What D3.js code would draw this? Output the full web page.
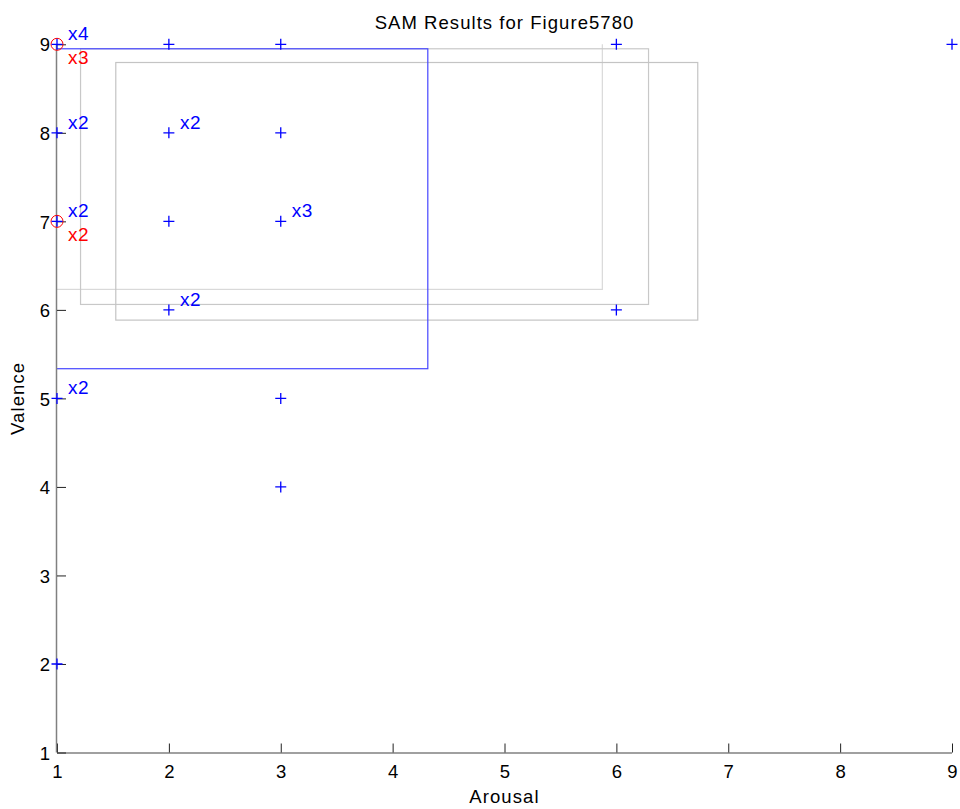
<!DOCTYPE html>
<html>
<head>
<meta charset="utf-8">
<script src="https://cdn.jsdelivr.net/npm/d3@7"></script>
<style>
  html, body { margin: 0; padding: 0; background: #fff; }
  svg { display: block; font-family: "Liberation Sans", Arial, sans-serif; }
</style>
</head>
<body>
<script>
// ---- data ----
const title = "SAM Results for Figure5780";
const xLabel = "Arousal";
const yLabel = "Valence";
const xTicks = [1, 2, 3, 4, 5, 6, 7, 8, 9];
const yTicks = [1, 2, 3, 4, 5, 6, 7, 8, 9];

// blue "+" ratings: arousal, valence, count
const blueArousal = [1, 2, 3, 6, 9, 1, 2, 3, 1, 2, 3, 2, 6, 1, 3, 3, 1];
const blueValence = [9, 9, 9, 9, 9, 8, 8, 8, 7, 7, 7, 6, 6, 5, 5, 4, 2];
const blueCount   = [4, 1, 1, 1, 1, 2, 2, 1, 2, 1, 3, 2, 1, 2, 1, 1, 1];

// red "o" ratings
const redArousal = [1, 1];
const redValence = [9, 7];
const redCount   = [3, 2];

// rectangles (arousal min/max, valence min/max)
const boxName    = ["light", "mid", "gray", "blue"];
const boxAroMin  = [0.8, 1.206, 1.521, 0.9];
const boxAroMax  = [5.87, 6.283, 6.723, 4.31];
const boxValMin  = [6.237, 6.067, 5.89, 5.341];
const boxValMax  = [9.1, 8.955, 8.80, 8.955];
const boxColor   = ["#d9d9d9", "#c8c8c8", "#c4c4c4", "#4646ff"];

// ---- drawing ----
(function () {
const W = 960, H = 809;
const mLeft = 57, mRight = 952, mTop = 44.3, mBottom = 752.5;

const svg = d3.select("body").append("svg").attr("width", W).attr("height", H);

const x = d3.scaleLinear().domain([1, 9]).range([mLeft, mRight]);
const y = d3.scaleLinear().domain([1, 9]).range([mBottom, mTop]);

svg.append("defs").append("clipPath").attr("id", "plotclip")
  .append("rect").attr("x", mLeft).attr("y", mTop)
  .attr("width", mRight - mLeft).attr("height", mBottom - mTop);

const plot = svg.append("g").attr("clip-path", "url(#plotclip)");

// boxes
boxName.forEach((n, i) => {
  plot.append("rect")
    .attr("x", x(boxAroMin[i]) + 0.5)
    .attr("y", y(boxValMax[i]) + 0.5)
    .attr("width", x(boxAroMax[i]) - x(boxAroMin[i]))
    .attr("height", y(boxValMin[i]) - y(boxValMax[i]))
    .attr("fill", "none")
    .attr("stroke", boxColor[i])
    .attr("stroke-width", 1.2);
});

// axes
const xAxis = d3.axisBottom(x).tickValues(xTicks).tickSize(-9).tickPadding(12).tickFormat(d3.format("d"));
const yAxis = d3.axisLeft(y).tickValues(yTicks).tickSize(-9).tickPadding(7).tickFormat(d3.format("d"));

const gx = svg.append("g").attr("transform", `translate(0,${mBottom})`).call(xAxis);
const gy = svg.append("g").attr("transform", `translate(${mLeft},0)`).call(yAxis);

[gx, gy].forEach(g => {
  g.select(".domain").attr("stroke", "#808080").attr("stroke-width", 1.5);
  g.selectAll(".tick line").attr("stroke", "#222").attr("stroke-width", 1);
  g.selectAll(".tick text").attr("fill", "#000").style("font-size", "18.5px")
    .style("font-family", "'Liberation Sans', Arial, sans-serif");
});
gx.select(".domain").attr("d", `M${mLeft},0.5H${mRight}`);
gy.select(".domain").attr("d", `M-0.5,${mTop}V${mBottom}`);
gy.selectAll(".tick text").attr("dy", "0.36em");

// red circles
const pts = svg.append("g");
redArousal.forEach((a, i) => {
  pts.append("circle")
    .attr("cx", x(a)).attr("cy", y(redValence[i])).attr("r", 6)
    .attr("fill", "none").attr("stroke", "#ff0000").attr("stroke-width", 1);
});

// blue plus markers
blueArousal.forEach((a, i) => {
  const cx = x(a), cy = y(blueValence[i]);
  pts.append("path")
    .attr("d", `M${cx - 5.5},${cy}H${cx + 5.5}M${cx},${cy - 5.5}V${cy + 5.5}`)
    .attr("stroke", "#0000ff").attr("stroke-width", 1.3).attr("fill", "none");
});

// count labels
blueArousal.forEach((a, i) => {
  if (blueCount[i] > 1) {
    svg.append("text")
      .attr("x", x(a) + 11).attr("y", y(blueValence[i]) - 4.3)
      .attr("fill", "#0000ff").style("font-size", "19px").style("letter-spacing", "0.5px")
      .text("x" + blueCount[i]);
  }
});
redArousal.forEach((a, i) => {
  if (redCount[i] > 1) {
    svg.append("text")
      .attr("x", x(a) + 11).attr("y", y(redValence[i]) + 19.7)
      .attr("fill", "#ff0000").style("font-size", "19px").style("letter-spacing", "0.5px")
      .text("x" + redCount[i]);
  }
});

// title and axis labels
svg.append("text").attr("x", (mLeft + mRight) / 2).attr("y", 29.3)
  .attr("text-anchor", "middle").style("font-size", "18.5px").style("letter-spacing", "1.05px")
  .attr("fill", "#000").text(title);
svg.append("text").attr("x", (mLeft + mRight) / 2).attr("y", 803)
  .attr("text-anchor", "middle").style("font-size", "18.5px").style("letter-spacing", "1.1px")
  .attr("fill", "#000").text(xLabel);
svg.append("text")
  .attr("transform", `translate(24,${(mTop + mBottom) / 2}) rotate(-90)`)
  .attr("text-anchor", "middle").style("font-size", "18.5px").style("letter-spacing", "1.1px")
  .attr("fill", "#000").text(yLabel);
})();
</script>
</body>
</html>
